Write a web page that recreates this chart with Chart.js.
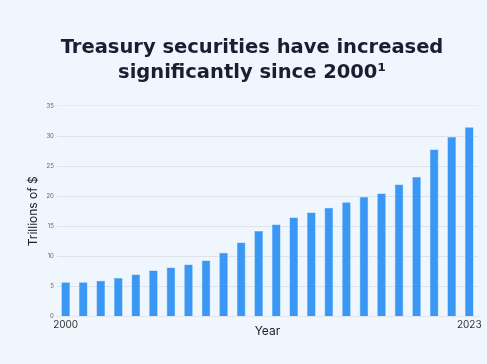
<!DOCTYPE html>
<html>
<head>
<meta charset="utf-8">
<script src="https://cdn.jsdelivr.net/npm/chart.js@4"></script>
<style>
  html, body { margin: 0; padding: 0; background: #eff6fd; }
  #wrap { width: 487px; height: 364px; }
</style>
</head>
<body>
<div id="wrap"><canvas id="treasury"></canvas></div>
<script>
const years = ['2000', '2001', '2002', '2003', '2004', '2005', '2006', '2007', '2008', '2009', '2010', '2011',
    '2012', '2013', '2014', '2015', '2016', '2017', '2018', '2019', '2020', '2021', '2022', '2023'];
const trillions = [5.7, 5.7, 5.95, 6.4, 7.0, 7.65, 8.15, 8.65, 9.3, 10.6, 12.3, 14.2,
    15.3, 16.45, 17.3, 18.1, 19.0, 19.85, 20.45, 21.95, 23.2, 27.75, 29.85, 31.45];
const yTicks = [0, 5, 10, 15, 20, 25, 30, 35];

function drawTreasury() {
    new Chart(document.getElementById('treasury'), {
        type: 'bar',
        data: {
            labels: years,
            datasets: [{
                label: 'Trillions of $',
                data: trillions,
                backgroundColor: '#3a98f4',
                borderColor: '#5aaaf2',
                borderWidth: 0.5,
                barPercentage: 0.53,
                categoryPercentage: 0.92
            }]
        },
        options: {
            responsive: false,
            animation: false,
            layout: { padding: { left: 26, right: 9, top: 35, bottom: 25 } },
            plugins: {
                legend: { display: false },
                tooltip: { enabled: false },
                title: {
                    display: true,
                    text: ['Treasury securities have increased', 'significantly since 2000\u00b9'],
                    color: '#1a1e30',
                    font: { family: 'DejaVu Sans', size: 19.5, weight: 'bold', lineHeight: 1.28 },
                    padding: { top: 0, bottom: 21 }
                }
            },
            scales: {
                x: {
                    grid: { display: false, drawTicks: false },
                    border: { color: '#e2e7ee' },
                    ticks: {
                        autoSkip: false,
                        maxRotation: 0,
                        color: '#333',
                        font: { family: 'Inter', size: 10 },
                        padding: 2,
                        callback: (v, i) => (i === 0 || i === years.length - 1) ? years[i] : ''
                    },
                    title: {
                        display: true,
                        text: 'Year',
                        color: '#222',
                        font: { family: 'Inter', size: 12 },
                        padding: { top: -8, bottom: 0 }
                    }
                },
                y: {
                    min: yTicks[0],
                    max: yTicks[yTicks.length - 1],
                    afterBuildTicks: axis => { axis.ticks = yTicks.map(v => ({ value: v })); },
                    grid: {
                        color: ctx => ctx.tick && ctx.tick.value === 35 ? '#e6ebf1' : '#dde3ea',
                        drawTicks: false
                    },
                    border: { display: false },
                    ticks: {
                        color: '#666',
                        font: { family: 'Inter', size: 6 },
                        padding: 3
                    },
                    title: {
                        display: true,
                        text: 'Trillions of $',
                        color: '#222',
                        font: { family: 'Inter', size: 12 },
                        padding: { top: 0, bottom: 3 }
                    }
                }
            }
        }
    });
}

document.getElementById('treasury').width = 487;
document.getElementById('treasury').height = 364;
drawTreasury();
</script>
</body>
</html>
